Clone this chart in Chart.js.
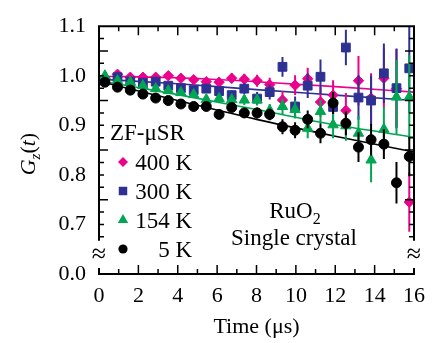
<!DOCTYPE html>
<html>
<head>
<meta charset="utf-8">
<script src="https://cdn.jsdelivr.net/npm/chart.js@4/dist/chart.umd.min.js"></script>
<style>
html,body{margin:0;padding:0;background:#fff;}
canvas{display:block;}
</style>
</head>
<body>
<canvas id="chart" width="434" height="343"></canvas>
<script>
// time bins (us)
const times = [0.30,0.94,1.59,2.23,2.88,3.52,4.16,4.81,5.45,6.10,6.74,7.38,8.03,8.67,9.32,9.96,10.60,11.25,11.89,12.54,13.18,13.82,14.47,15.11,15.76];

// Gz(t) data, with error bars
const g400 = [0.995,1.003,0.997,0.997,0.997,1.000,0.995,0.992,0.988,0.987,0.995,0.993,0.990,0.982,0.951,0.981,0.994,0.947,0.961,0.930,0.990,0.955,0.995,0.974,0.745];
const e400 = [0.003,0.003,0.004,0.004,0.005,0.005,0.006,0.007,0.008,0.009,0.010,0.011,0.012,0.014,0.018,0.020,0.022,0.030,0.030,0.035,0.050,0.050,0.060,0.080,0.060];

const g300 = [0.990,0.997,0.988,0.986,0.988,0.980,0.975,0.971,0.974,0.969,0.961,0.974,0.954,0.967,1.018,0.938,0.980,0.998,0.937,1.057,0.956,0.950,1.005,0.975,1.015];
const e300 = [0.003,0.003,0.004,0.004,0.005,0.006,0.006,0.007,0.008,0.009,0.010,0.011,0.013,0.015,0.020,0.020,0.025,0.035,0.030,0.036,0.045,0.050,0.060,0.080,0.090];

const g154 = [1.000,0.990,0.987,0.980,0.974,0.970,0.966,0.962,0.952,0.954,0.952,0.951,0.951,0.930,0.938,0.932,0.894,0.928,0.901,0.899,0.884,0.830,0.892,0.957,0.957];
const e154 = [0.003,0.003,0.004,0.004,0.005,0.005,0.006,0.006,0.007,0.008,0.009,0.010,0.011,0.013,0.016,0.018,0.020,0.023,0.027,0.030,0.035,0.045,0.045,0.075,0.085];

const g5 = [0.987,0.977,0.971,0.963,0.955,0.950,0.943,0.938,0.938,0.922,0.936,0.925,0.925,0.922,0.897,0.890,0.912,0.884,0.945,0.904,0.856,0.871,0.862,0.784,0.837];
const e5 = [0.003,0.003,0.004,0.004,0.004,0.005,0.005,0.006,0.006,0.007,0.008,0.010,0.011,0.012,0.015,0.016,0.018,0.020,0.022,0.024,0.030,0.032,0.030,0.042,0.040];

// fit curves, sampled off the figure
const fitT = [0,4,8,12,16];
const fit400 = [0.999,0.996,0.988,0.978,0.967];
const fit300 = [0.993,0.984,0.972,0.961,0.950];
const fit154 = [0.990,0.962,0.932,0.901,0.876];
const fit5 = [0.989,0.950,0.912,0.878,0.846];

const xTicks = [0,2,4,6,8,10,12,14,16];
const yTicks = [0.6,0.7,0.8,0.9,1.0,1.1];
const yTickLabels = ['0.0','0.7','0.8','0.9','1.0','1.1'];
const seriesNames = ['400 K','300 K','154 K','5 K'];

const PINK = '#EC008C', BLUE = '#2E3192', GREEN = '#00A651', BLACK = '#000000';
const SERIF = '"Liberation Serif", "Times New Roman", serif';

function pts(xs, ys){ return xs.map((x,i)=>({x:x, y:ys[i]})); }

function series(name, ys, errs, color, style, r){
    return {
        label:name, data:pts(times,ys), errors:errs,
        backgroundColor:color, borderColor:color,
        pointStyle:style, pointRadius:r, pointBorderWidth:1,
        showLine:false
    };
}

function fitLine(ys, color){
    return {
        data:pts(fitT,ys), showLine:true, borderColor:color, borderWidth:1.6,
        pointRadius:0, cubicInterpolationMode:'monotone', fill:false
    };
}

// vertical error bars, drawn under each series' markers
const errorBars = {
    id:'errorBars',
    beforeDatasetDraw(chart, args){
        const ds = chart.data.datasets[args.index];
        if(!ds.errors) return;
        const {ctx, chartArea:a, scales:{x,y}} = chart;
        ctx.save();
        ctx.beginPath();
        ctx.rect(a.left, a.top, a.right-a.left, a.bottom-a.top);
        ctx.clip();
        ctx.strokeStyle = ds.borderColor;
        ctx.lineWidth = 2;
        ds.data.forEach((p,j)=>{
            const px = x.getPixelForValue(p.x);
            ctx.beginPath();
            ctx.moveTo(px, y.getPixelForValue(p.y - ds.errors[j]));
            ctx.lineTo(px, y.getPixelForValue(p.y + ds.errors[j]));
            ctx.stroke();
        });
        ctx.restore();
    }
};

function mark(ctx, style, x, y, r, color){
    ctx.fillStyle = color;
    ctx.beginPath();
    if(style==='circle'){ ctx.arc(x,y,r,0,Math.PI*2); }
    else if(style==='rect'){ const s=r*Math.SQRT1_2; ctx.rect(x-s,y-s,2*s,2*s); }
    else if(style==='triangle'){
        ctx.moveTo(x, y-r);
        ctx.lineTo(x+r*0.866, y+r*0.5);
        ctx.lineTo(x-r*0.866, y+r*0.5);
        ctx.closePath();
    }
    else { ctx.moveTo(x-r,y); ctx.lineTo(x,y-r); ctx.lineTo(x+r,y); ctx.lineTo(x,y+r); ctx.closePath(); }
    ctx.fill();
}

// frame with broken axis, inward ticks, y title, legend, labels
const frame = {
    id:'frame',
    afterDraw(chart){
        const {ctx, chartArea:a, scales:{x,y}} = chart;
        ctx.save();
        ctx.strokeStyle = '#000';
        ctx.lineCap = 'butt';

        // frame
        ctx.lineWidth = 2;
        const yBreakTop = y.getPixelForValue(0.667);
        const yBreakBot = y.getPixelForValue(0.612);
        ctx.beginPath();
        ctx.moveTo(a.left, yBreakTop); ctx.lineTo(a.left, a.top); ctx.lineTo(a.right, a.top); ctx.lineTo(a.right, yBreakTop);
        ctx.moveTo(a.left, yBreakBot); ctx.lineTo(a.left, a.bottom); ctx.lineTo(a.right, a.bottom); ctx.lineTo(a.right, yBreakBot);
        ctx.stroke();

        // ticks
        ctx.lineWidth = 1.5;
        ctx.beginPath();
        for(let t=1; t<16; t++){
            const px = x.getPixelForValue(t);
            const len = t%2===0 ? 9 : 5;
            ctx.moveTo(px, a.bottom); ctx.lineTo(px, a.bottom-len);
            ctx.moveTo(px, a.top); ctx.lineTo(px, a.top+len);
        }
        for(let k=0; k<17; k++){
            const v = 0.675 + k*0.025;
            const py = y.getPixelForValue(v);
            const len = (k+1)%4===0 ? 9 : 5;
            ctx.moveTo(a.left, py); ctx.lineTo(a.left+len, py);
            ctx.moveTo(a.right, py); ctx.lineTo(a.right-len, py);
        }
        ctx.stroke();

        // axis break marks
        ctx.fillStyle = '#000';
        ctx.font = '26px ' + SERIF;
        ctx.textAlign = 'center';
        ctx.textBaseline = 'middle';
        const yb = y.getPixelForValue(0.638);
        ctx.fillText('\u2248', a.left, yb);
        ctx.fillText('\u2248', a.right, yb);

        // y title: Gz(t)
        ctx.save();
        ctx.translate(27, (a.top+a.bottom)/2 + 4);
        ctx.rotate(-Math.PI/2);
        ctx.textAlign = 'left';
        ctx.textBaseline = 'alphabetic';
        const fBig = 'italic 22px ' + SERIF, fSub = 'italic 15px ' + SERIF, fUp = '22px ' + SERIF;
        const parts = [['G',fBig,0],['z',fSub,5],['(',fUp,0],['t',fBig,0],[')',fUp,0]];
        let w = 0;
        parts.forEach(p=>{ ctx.font=p[1]; w += ctx.measureText(p[0]).width; });
        let cx = -w/2;
        parts.forEach(p=>{ ctx.font=p[1]; ctx.fillText(p[0], cx, 8+p[2]); cx += ctx.measureText(p[0]).width; });
        ctx.restore();

        // legend
        ctx.textBaseline = 'alphabetic';
        ctx.font = '23px ' + SERIF;
        ctx.textAlign = 'left';
        ctx.fillText('ZF-\u03bcSR', a.left+11, 140);
        const styles = ['rectRot','rect','triangle','circle'];
        const colors = [PINK, BLUE, GREEN, BLACK];
        const radii = [5, 6, 6, 4.6];
        seriesNames.forEach((n,i)=>{
            const base = 170 + i*29;
            mark(ctx, styles[i], a.left+24, base-8, radii[i], colors[i]);
            ctx.fillStyle = '#000';
            ctx.textAlign = 'right';
            ctx.fillText(n, a.left+93, base);
        });

        // sample label
        ctx.textAlign = 'left';
        ctx.font = '23px ' + SERIF;
        const ru = 'RuO', sub = '2';
        const wRu = ctx.measureText(ru).width;
        ctx.font = '16px ' + SERIF;
        const wSub = ctx.measureText(sub).width;
        const lx = 295 - (wRu+wSub)/2;
        ctx.font = '23px ' + SERIF;
        ctx.fillText(ru, lx, 218);
        ctx.font = '16px ' + SERIF;
        ctx.fillText(sub, lx+wRu, 224);
        ctx.font = '23px ' + SERIF;
        ctx.textAlign = 'center';
        ctx.fillText('Single crystal', 294, 245);

        ctx.restore();
    }
};

const chart = new Chart(document.getElementById('chart'), {
    type:'scatter',
    data:{
        datasets:[
            series('5 K', g5, e5, BLACK, 'circle', 5),
            series('154 K', g154, e154, GREEN, 'triangle', 6),
            series('300 K', g300, e300, BLUE, 'rect', 6.2),
            series('400 K', g400, e400, PINK, 'rectRot', 5.2),
            fitLine(fit5, BLACK),
            fitLine(fit154, GREEN),
            fitLine(fit300, BLUE),
            fitLine(fit400, PINK)
        ]
    },
    options:{
        responsive:false,
        devicePixelRatio:1,
        animation:false,
        layout:{ padding:{ top:19, right:20, left:0, bottom:0 } },
        plugins:{ legend:{display:false}, tooltip:{enabled:false} },
        scales:{
            x:{
                type:'linear', min:0, max:16,
                afterBuildTicks:(s)=>{ s.ticks = xTicks.map(v=>({value:v})); },
                afterFit:(s)=>{ s.height = 69; },
                grid:{ display:false, drawTicks:false },
                border:{ display:false },
                ticks:{ color:'#000', padding:9, maxRotation:0, font:{ family:SERIF, size:22 } },
                title:{ display:true, text:'Time (\u03bcs)', color:'#000', padding:{top:0,bottom:3}, font:{ family:SERIF, size:22 } }
            },
            y:{
                type:'linear', min:0.6, max:1.1,
                afterBuildTicks:(s)=>{ s.ticks = yTicks.map(v=>({value:v})); },
                afterFit:(s)=>{ s.width = 99; },
                grid:{ display:false, drawTicks:false },
                border:{ display:false },
                ticks:{
                    color:'#000', padding:13, font:{ family:SERIF, size:22 },
                    callback:(v)=>{ const i = yTicks.findIndex(t=>Math.abs(t-v)<1e-6); return i>=0 ? yTickLabels[i] : ''; }
                }
            }
        }
    },
    plugins:[errorBars, frame]
});
</script>
</body>
</html>
